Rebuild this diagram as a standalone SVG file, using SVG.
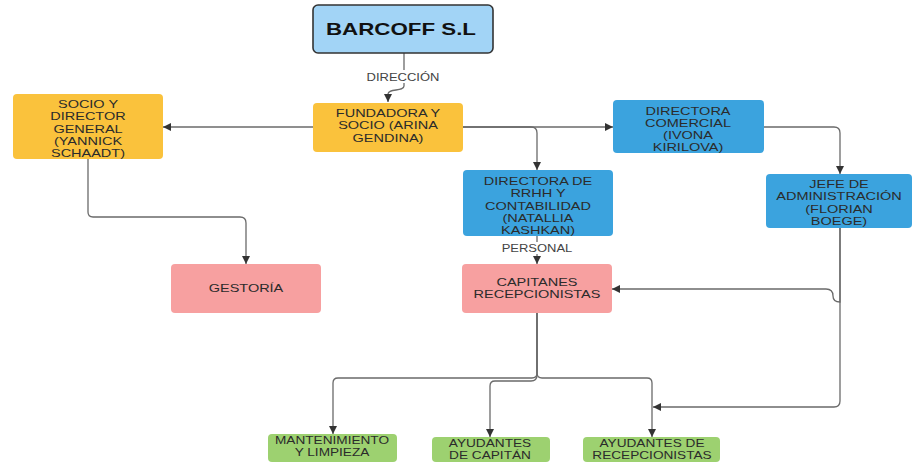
<svg xmlns="http://www.w3.org/2000/svg" width="912" height="463" viewBox="0 0 912 463">
<defs>
<marker id="ah" viewBox="0 0 10 10" refX="10" refY="5" markerWidth="8" markerHeight="8" markerUnits="userSpaceOnUse" orient="auto">
<path d="M0,0 L10,5 L0,10 z" fill="#333"/>
</marker>
<style>
.c{fill:none;stroke:#6a6a6a;stroke-width:1.3;marker-end:url(#ah)}
.t{font-family:"Liberation Sans",Arial,sans-serif;font-size:10.5px;fill:#2b2b2b;text-anchor:middle}
.l{font-family:"Liberation Sans",Arial,sans-serif;font-size:10px;fill:#444;text-anchor:middle}
.or{fill:#fac23c}
.bl{fill:#3ba3de}
.pk{fill:#f7a0a0}
.gr{fill:#9dd170}
</style>
</defs>
<rect width="912" height="463" fill="#fff"/>
<g id="connectors">
<path class="c" d="M404,53 V86 C404,92 388,88 388,94 V102"/>
<rect x="364" y="70" width="78" height="13" fill="#fff"/>
<g transform="translate(403 0) scale(1.3 1)"><text class="l" x="0" y="81">DIRECCIÓN</text></g>
<path class="c" d="M313,127 H163"/>
<path class="c" d="M463,127 H613"/>
<path class="c" d="M463,127 H531 Q537,127 537,133 V170"/>
<path class="c" d="M88,159 V212 Q88,217 93,217 H240 Q246,217 246,223 V264"/>
<path class="c" d="M764,127 H834 Q840,127 840,133 V174"/>
<path class="c" d="M537,236 V264"/>
<rect x="499" y="242" width="76" height="12" fill="#fff"/>
<g transform="translate(537 0) scale(1.3 1)"><text class="l" x="0" y="252">PERSONAL</text></g>
<path class="c" d="M840,228 V302 Q833,302 833,296 Q833,289 826,289 H612"/>
<path class="c" d="M840,228 V401 Q840,407 834,407 H653"/>
<path class="c" d="M537,313 V373 Q537,378 532,378 H338 Q333,378 333,383 V434"/>
<path class="c" d="M537,313 V375 Q537,381 531,381 H495 Q490,381 490,386 V437"/>
<path class="c" d="M537,313 V373 Q537,378 542,378 H647 Q652,378 652,383 V437"/>
</g>
<g id="barcoff">
<rect x="313" y="5" width="180" height="48" rx="5" fill="#a2d4f6" stroke="#333" stroke-width="1.6"/>
<text x="401" y="35" font-family="'Liberation Sans',Arial,sans-serif" font-weight="bold" font-size="17" fill="#111" text-anchor="middle" textLength="150" lengthAdjust="spacingAndGlyphs">BARCOFF S.L</text>
</g>
<g id="fundadora">
<rect class="or" x="313" y="103" width="150" height="49" rx="4"/>
<g transform="translate(388 0) scale(1.38 1)"><text class="t"><tspan x="0" y="117">FUNDADORA Y</tspan><tspan x="0" y="129.5">SOCIO (ARINA</tspan><tspan x="0" y="142">GENDINA)</tspan></text></g>
</g>
<g id="socio">
<rect class="or" x="13" y="94" width="150" height="65" rx="4"/>
<g transform="translate(88 0) scale(1.38 1)"><text class="t"><tspan x="0" y="108">SOCIO Y</tspan><tspan x="0" y="120.3">DIRECTOR</tspan><tspan x="0" y="132.6">GENERAL</tspan><tspan x="0" y="144.9">(YANNICK</tspan><tspan x="0" y="157.2">SCHAADT)</tspan></text></g>
</g>
<g id="comercial">
<rect class="bl" x="613" y="100" width="151" height="53" rx="4"/>
<g transform="translate(688 0) scale(1.38 1)"><text class="t"><tspan x="0" y="115">DIRECTORA</tspan><tspan x="0" y="127">COMERCIAL</tspan><tspan x="0" y="139">(IVONA</tspan><tspan x="0" y="151">KIRILOVA)</tspan></text></g>
</g>
<g id="rrhh">
<rect class="bl" x="463" y="170" width="150" height="66" rx="4"/>
<g transform="translate(538 0) scale(1.38 1)"><text class="t"><tspan x="0" y="185">DIRECTORA DE</tspan><tspan x="0" y="197.3">RRHH Y</tspan><tspan x="0" y="209.6">CONTABILIDAD</tspan><tspan x="0" y="221.9">(NATALLIA</tspan><tspan x="0" y="234.2">KASHKAN)</tspan></text></g>
</g>
<g id="jefe">
<rect class="bl" x="766" y="174" width="146" height="54" rx="4"/>
<g transform="translate(839 0) scale(1.38 1)"><text class="t"><tspan x="0" y="188">JEFE DE</tspan><tspan x="0" y="200.3">ADMINISTRACIÓN</tspan><tspan x="0" y="212.6">(FLORIAN</tspan><tspan x="0" y="224.9">BOEGE)</tspan></text></g>
</g>
<g id="gestoria">
<rect class="pk" x="171" y="264" width="150" height="49" rx="4"/>
<g transform="translate(246 0) scale(1.38 1)"><text class="t" x="0" y="292">GESTORÍA</text></g>
</g>
<g id="capitanes">
<rect class="pk" x="462" y="264" width="150" height="49" rx="4"/>
<g transform="translate(537 0) scale(1.38 1)"><text class="t"><tspan x="0" y="286">CAPITANES</tspan><tspan x="0" y="298">RECEPCIONISTAS</tspan></text></g>
</g>
<g id="mantenimiento">
<rect class="gr" x="268" y="434" width="129" height="28" rx="4"/>
<g transform="translate(332 0) scale(1.3 1)"><text class="t"><tspan x="0" y="444">MANTENIMIENTO</tspan><tspan x="0" y="456">Y LIMPIEZA</tspan></text></g>
</g>
<g id="ayud-capitan">
<rect class="gr" x="432" y="437" width="118" height="25" rx="4"/>
<g transform="translate(490 0) scale(1.3 1)"><text class="t"><tspan x="0" y="447">AYUDANTES</tspan><tspan x="0" y="459">DE CAPITÁN</tspan></text></g>
</g>
<g id="ayud-recep">
<rect class="gr" x="583" y="437" width="137" height="25" rx="4"/>
<g transform="translate(652 0) scale(1.3 1)"><text class="t"><tspan x="0" y="447">AYUDANTES DE</tspan><tspan x="0" y="459">RECEPCIONISTAS</tspan></text></g>
</g>
</svg>
